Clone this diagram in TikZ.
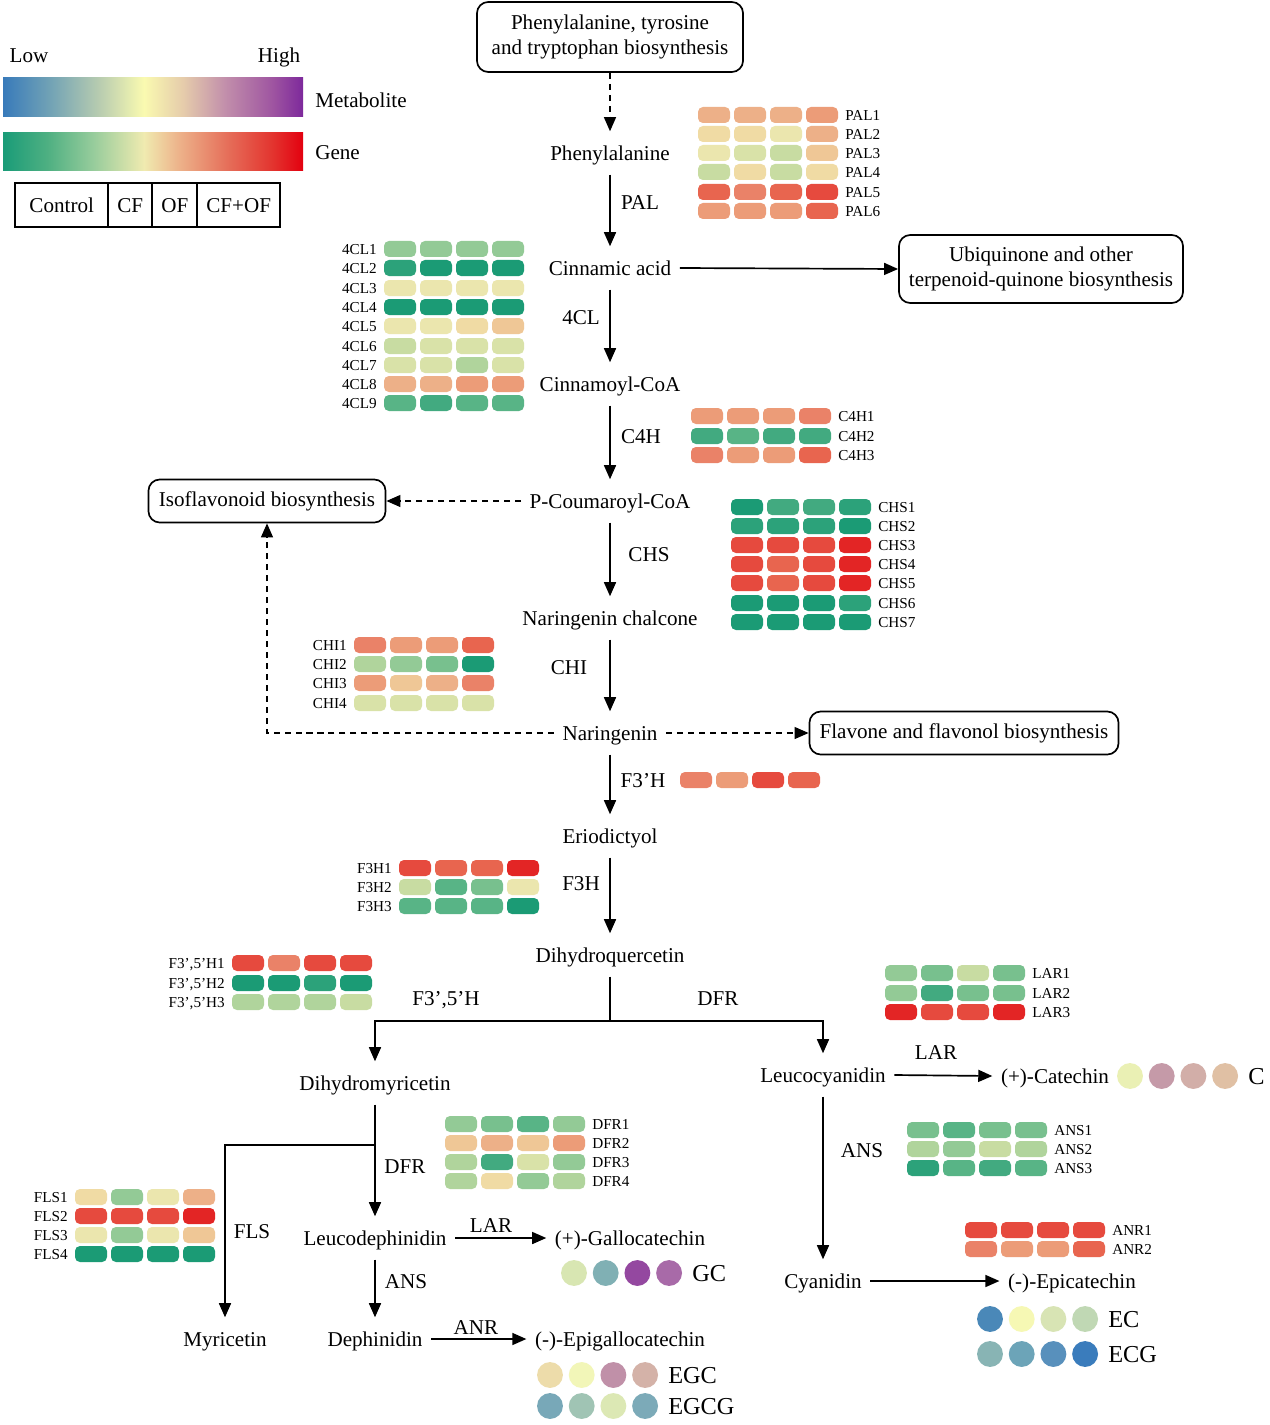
\documentclass[tikz,border=0pt]{standalone}
\usepackage{fontspec}
\setmainfont{Liberation Serif}
\usepackage{tikz}
\usetikzlibrary{arrows.meta}
\definecolor{gene0}{HTML}{1B9B75}
\definecolor{gene1}{HTML}{2CA27A}
\definecolor{gene2}{HTML}{42AA80}
\definecolor{gene3}{HTML}{58B486}
\definecolor{gene4}{HTML}{78C08E}
\definecolor{gene5}{HTML}{93CA96}
\definecolor{gene6}{HTML}{B0D49C}
\definecolor{gene7}{HTML}{C8DCA2}
\definecolor{gene8}{HTML}{D9E2A8}
\definecolor{gene9}{HTML}{EBE6AE}
\definecolor{gene10}{HTML}{F0DBA4}
\definecolor{gene11}{HTML}{EFC796}
\definecolor{gene12}{HTML}{EDB088}
\definecolor{gene13}{HTML}{EC9C78}
\definecolor{gene14}{HTML}{EA8268}
\definecolor{gene15}{HTML}{E8654F}
\definecolor{gene16}{HTML}{E64A3E}
\definecolor{gene17}{HTML}{E32525}
\pgfdeclarehorizontalshading{metabar}{100bp}{rgb(0bp)=(0.22,0.48,0.73); rgb(25bp)=(0.22,0.48,0.73); rgb(33bp)=(0.45,0.64,0.71); rgb(41bp)=(0.72,0.80,0.69); rgb(48.5bp)=(0.98,0.98,0.69); rgb(55bp)=(0.90,0.80,0.67); rgb(62bp)=(0.76,0.56,0.67); rgb(70bp)=(0.62,0.33,0.63); rgb(75bp)=(0.49,0.16,0.61); rgb(100bp)=(0.49,0.16,0.61)}
\pgfdeclarehorizontalshading{genebar}{100bp}{rgb(0bp)=(0.10,0.61,0.47); rgb(25bp)=(0.10,0.61,0.47); rgb(32.5bp)=(0.31,0.69,0.51); rgb(40bp)=(0.59,0.80,0.61); rgb(48.5bp)=(0.94,0.92,0.69); rgb(54bp)=(0.93,0.71,0.55); rgb(62.5bp)=(0.90,0.43,0.35); rgb(70bp)=(0.89,0.20,0.18); rgb(75bp)=(0.89,0.0,0.06); rgb(100bp)=(0.89,0.0,0.06)}
\tikzstyle{chem} = [inner xsep=6pt, inner ysep=8pt, text height=12.4pt, text depth=2.1pt, font=\fontsize{15}{18}\selectfont]
\tikzstyle{enzyme} = [inner sep=0pt, text height=12.4pt, text depth=2.1pt, font=\fontsize{15}{18}\selectfont]
\tikzstyle{pathbox} = [rectangle, rounded corners=8pt, draw=black, line width=1.2pt, align=center, inner sep=0pt, font=\fontsize{15}{18}\selectfont]
\tikzstyle{legcell} = [rectangle, draw=black, line width=1.2pt, minimum height=1.1cm, inner sep=0pt, text height=12.4pt, text depth=2.1pt, font=\fontsize{15}{18}\selectfont]
\tikzstyle{genelabel} = [inner sep=0pt, text height=7.2pt, text depth=0pt, font=\fontsize{10.8}{12}\selectfont]
\tikzstyle{metlabel} = [inner sep=0pt, anchor=west, text height=12pt, text depth=0pt, font=\fontsize{17.3}{20}\selectfont]
\tikzstyle{heatcell} = [rounded corners=3.5pt]
\tikzstyle{link} = [line width=1.2pt]
\tikzstyle{arrow} = [line width=1.2pt, -{Triangle[length=10pt,width=8.5pt]}]
\tikzstyle{dasharrow} = [line width=1pt, dash pattern=on 4.3pt off 3.5pt, -{Triangle[length=10pt,width=8.5pt]}]
% heat rows: name, x of first cell, y of row, colour levels, label
\newcommand{\genesR}[5]{%
  \foreach \v [count=\i from 0] in {#4} \fill[heatcell, fill=gene\v] ({#2+\i*36},{#3-8}) rectangle ++(32,16);
  \node (#1) [genelabel, anchor=west] at ({#2+147},#3) {#5};}
\newcommand{\genesL}[5]{%
  \foreach \v [count=\i from 0] in {#4} \fill[heatcell, fill=gene\v] ({#2+\i*36},{#3-8}) rectangle ++(32,16);
  \node (#1) [genelabel, anchor=east] at ({#2-7},#3) {#5};}
% metabolite dots: name, x of first dot, y, colours, label
\newcommand{\metabs}[5]{%
  \foreach \h [count=\i from 0] in {#4} {\edef\tmpdef{\noexpand\definecolor{dotfill}{HTML}{\h}}\tmpdef
    \fill[dotfill] ({#2+\i*31.7},#3) circle[radius=9.2pt];}
  \node (#1) [metlabel] at ({#2+118},#3) {#5};}

\begin{document}
\begin{tikzpicture}[x=0.025cm, y=-0.025cm]
\fill[white] (0,0) rectangle (1269,1425);
\useasboundingbox (0,0) rectangle (1269,1425);

% legend
\node (low) [enzyme] at (29,55) {Low};
\node (high) [enzyme] at (279,55) {High};
\shade[shading=metabar] (3,78) rectangle (303,117);
\shade[shading=genebar] (3,133) rectangle (303,171);
\node (metab) [enzyme, anchor=west] at (315,100) {Metabolite};
\node (gene) [enzyme, anchor=west] at (315,152) {Gene};
\node (ctrl) [legcell, minimum width=2.33cm] at (61.7,205) {Control};
\node (cf) [legcell, minimum width=1.1cm] at (130.3,205) {CF};
\node (of) [legcell, minimum width=1.125cm] at (174.8,205) {OF};
\node (cfof) [legcell, minimum width=2.07cm] at (238.7,205) {CF+OF};

% pathway
\node (top) [pathbox, minimum width=6.65cm, minimum height=1.75cm] at (610,37) {Phenylalanine, tyrosine\\and tryptophan biosynthesis};
\node (phe) [chem] at (610,153) {Phenylalanine};
\node (cin) [chem] at (610,268) {Cinnamic acid};
\node (ubi) [pathbox, minimum width=7.1cm, minimum height=1.7cm] at (1041,269) {Ubiquinone and other\\terpenoid-quinone biosynthesis};
\node (ccoa) [chem] at (610,384) {Cinnamoyl-CoA};
\node (pcoa) [chem] at (610,501) {P-Coumaroyl-CoA};
\node (iso) [pathbox, minimum width=5.925cm, minimum height=1.075cm] at (267,501) {Isoflavonoid biosynthesis};
\node (nchal) [chem] at (610,618) {Naringenin chalcone};
\node (nar) [chem] at (610,733) {Naringenin};
\node (flav) [pathbox, minimum width=7.725cm, minimum height=1.075cm] at (964,733) {Flavone and flavonol biosynthesis};
\node (erio) [chem] at (610,836) {Eriodictyol};
\node (dhq) [chem] at (610,955) {Dihydroquercetin};
\node (dhm) [chem] at (375,1083) {Dihydromyricetin};
\node (leuc) [chem] at (823,1075) {Leucocyanidin};
\node (cat) [chem] at (1055,1076) {(+)-Catechin};
\node (cya) [chem] at (823,1281) {Cyanidin};
\node (epi) [chem] at (1072,1281) {(-)-Epicatechin};
\node (ldp) [chem] at (375,1238) {Leucodephinidin};
\node (gcat) [chem] at (630,1238) {(+)-Gallocatechin};
\node (dph) [chem] at (375,1339) {Dephinidin};
\node (egcat) [chem] at (620,1339) {(-)-Epigallocatechin};
\node (myr) [chem] at (225,1339) {Myricetin};

\draw[dasharrow] (top.south) -- (phe.north);
\draw[arrow] (phe.south) -- (cin.north);
\draw[arrow] (cin.east) -- (ubi.west);
\draw[arrow] (cin.south) -- (ccoa.north);
\draw[arrow] (ccoa.south) -- (pcoa.north);
\draw[dasharrow] (pcoa.west) -- (iso.east);
\draw[arrow] (pcoa.south) -- (nchal.north);
\draw[arrow] (nchal.south) -- (nar.north);
\draw[dasharrow] (nar.west) -| (iso.south);
\draw[dasharrow] (nar.east) -- (flav.west);
\draw[arrow] (nar.south) -- (erio.north);
\draw[arrow] (erio.south) -- (dhq.north);
\coordinate (split) at (610,1021);
\draw[link] (dhq.south) -- (split);
\draw[arrow] (split) -| (dhm.north);
\draw[arrow] (split) -| (leuc.north);
\draw[arrow] (leuc.east) -- (cat.west);
\draw[arrow] (leuc.south) -- (cya.north);
\draw[arrow] (cya.east) -- (epi.west);
\draw[arrow] (dhm.south) -- (ldp.north);
\coordinate (fork) at (375,1145);
\draw[arrow] (fork) -| (myr.north);
\draw[arrow] (ldp.east) -- (gcat.west);
\draw[arrow] (ldp.south) -- (dph.north);
\draw[arrow] (dph.east) -- (egcat.west);

\node (lPAL) [enzyme] at (640,202) {PAL};
\node (l4CL) [enzyme] at (581,317) {4CL};
\node (lC4H) [enzyme] at (641,436) {C4H};
\node (lCHS) [enzyme] at (649,554) {CHS};
\node (lCHI) [enzyme] at (569,667) {CHI};
\node (lF3pH) [enzyme] at (643,780) {F3'H};
\node (lF3H) [enzyme] at (581,883) {F3H};
\node (lF35H) [enzyme] at (446,998) {F3',5'H};
\node (lDFRa) [enzyme] at (718,998) {DFR};
\node (lLARa) [enzyme] at (936,1052) {LAR};
\node (lANSa) [enzyme] at (862,1150) {ANS};
\node (lDFRb) [enzyme] at (405,1166) {DFR};
\node (lFLS) [enzyme] at (252,1231) {FLS};
\node (lLARb) [enzyme] at (491,1225) {LAR};
\node (lANSb) [enzyme] at (406,1281) {ANS};
\node (lANR) [enzyme] at (476,1327) {ANR};

% gene expression
\genesR{PAL1}{698}{115}{12,12,12,13}{PAL1}
\genesR{PAL2}{698}{134}{10,10,9,12}{PAL2}
\genesR{PAL3}{698}{153}{9,8,7,11}{PAL3}
\genesR{PAL4}{698}{172}{7,10,7,10}{PAL4}
\genesR{PAL5}{698}{192}{15,14,15,16}{PAL5}
\genesR{PAL6}{698}{211}{13,13,13,15}{PAL6}

\genesL{4CL1}{384}{249}{5,5,5,5}{4CL1}
\genesL{4CL2}{384}{268}{1,0,0,0}{4CL2}
\genesL{4CL3}{384}{288}{9,9,9,9}{4CL3}
\genesL{4CL4}{384}{307}{0,0,0,0}{4CL4}
\genesL{4CL5}{384}{326}{9,9,10,11}{4CL5}
\genesL{4CL6}{384}{346}{7,8,8,8}{4CL6}
\genesL{4CL7}{384}{365}{8,8,6,8}{4CL7}
\genesL{4CL8}{384}{384}{12,12,13,13}{4CL8}
\genesL{4CL9}{384}{403}{3,2,3,3}{4CL9}

\genesR{C4H1}{691}{416}{13,13,13,14}{C4H1}
\genesR{C4H2}{691}{436}{2,3,2,2}{C4H2}
\genesR{C4H3}{691}{455}{14,13,13,15}{C4H3}

\genesR{CHS1}{731}{507}{0,2,2,1}{CHS1}
\genesR{CHS2}{731}{526}{1,1,1,0}{CHS2}
\genesR{CHS3}{731}{545}{16,16,16,17}{CHS3}
\genesR{CHS4}{731}{564}{16,15,16,17}{CHS4}
\genesR{CHS5}{731}{583}{16,15,16,17}{CHS5}
\genesR{CHS6}{731}{603}{0,0,0,1}{CHS6}
\genesR{CHS7}{731}{622}{0,0,0,0}{CHS7}

\genesL{CHI1}{354}{645}{14,13,13,15}{CHI1}
\genesL{CHI2}{354}{664}{6,5,4,0}{CHI2}
\genesL{CHI3}{354}{683}{13,11,12,14}{CHI3}
\genesL{CHI4}{354}{703}{8,8,8,8}{CHI4}

\foreach \v [count=\i from 0] in {14,13,16,15}
  \fill[heatcell, fill=gene\v] ({680+\i*36},772) rectangle ++(32,16);

\genesL{F3H1}{399}{868}{16,15,15,17}{F3H1}
\genesL{F3H2}{399}{887}{7,3,4,9}{F3H2}
\genesL{F3H3}{399}{906}{3,3,3,0}{F3H3}

\genesL{F35H1}{232}{963}{16,14,16,16}{F3',5'H1}
\genesL{F35H2}{232}{983}{0,0,1,0}{F3',5'H2}
\genesL{F35H3}{232}{1002}{6,6,6,7}{F3',5'H3}

\genesR{LAR1}{885}{973}{5,4,7,4}{LAR1}
\genesR{LAR2}{885}{993}{5,2,4,4}{LAR2}
\genesR{LAR3}{885}{1012}{17,16,16,17}{LAR3}

\genesR{DFR1}{445}{1124}{5,4,3,5}{DFR1}
\genesR{DFR2}{445}{1143}{11,12,11,13}{DFR2}
\genesR{DFR3}{445}{1162}{6,2,8,5}{DFR3}
\genesR{DFR4}{445}{1181}{6,10,5,6}{DFR4}

\genesR{ANS1}{907}{1130}{4,3,4,4}{ANS1}
\genesR{ANS2}{907}{1149}{6,5,7,6}{ANS2}
\genesR{ANS3}{907}{1168}{1,3,2,3}{ANS3}

\genesL{FLS1}{75}{1197}{10,5,9,12}{FLS1}
\genesL{FLS2}{75}{1216}{16,16,16,17}{FLS2}
\genesL{FLS3}{75}{1235}{9,5,9,11}{FLS3}
\genesL{FLS4}{75}{1254}{0,0,0,0}{FLS4}

\genesR{ANR1}{965}{1230}{16,16,16,16}{ANR1}
\genesR{ANR2}{965}{1249}{14,13,13,15}{ANR2}

% metabolites
\metabs{mC}{1130}{1076}{EAF0B4,C59AA8,D2AEA8,E0C0A4}{C}
\metabs{mGC}{574}{1273}{D8E6B2,80B0B4,9448A0,A86AA8}{GC}
\metabs{mEGC}{550}{1375}{EDDCAA,F2F6B8,C090A8,D4B2A8}{EGC}
\metabs{mEGCG}{550}{1406}{78A8B8,A0C4B4,DCE8B4,7CAAB8}{EGCG}
\metabs{mEC}{990}{1319}{4A88B8,F6F8B4,D8E4B4,C0D8B4}{EC}
\metabs{mECG}{990}{1354}{88B4B4,6CA4B8,5890BC,3A7CBC}{ECG}
\end{tikzpicture}
\end{document}
